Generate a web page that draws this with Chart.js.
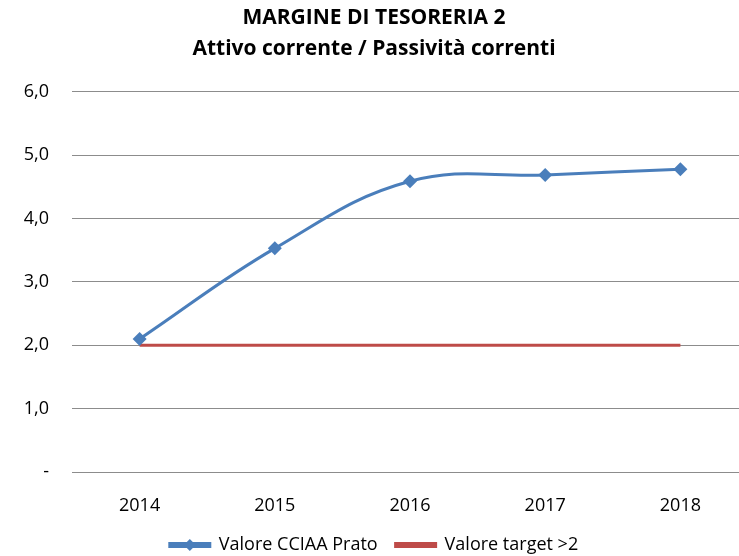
<!DOCTYPE html>
<html>
    <head>
        <title>Margine di tesoreria 2</title>
        <meta charset="UTF-8" />
        <script src="https://cdn.jsdelivr.net/npm/chart.js"></script>
        <style>
            body { margin: 0; background: #fff; width: 739px; height: 556px; overflow: hidden; }
            #wrap { width: 775px; height: 556px; }
        </style>
    </head>
    <body>
        <div id="wrap"><canvas id="myChart"></canvas></div>
        <script>
            // dati
            var anni = ['2014', '2015', '2016', '2017', '2018'];
            var valoreCciaa = [2.1, 3.53, 4.59, 4.69, 4.78];
            var valoreTarget = [2, 2, 2, 2, 2];
            var titolo = ['MARGINE DI TESORERIA 2', 'Attivo corrente / Passività correnti'];
            var etichette = ['Valore CCIAA Prato', 'Valore target >2'];

            var blu = '#4A7EBB';
            var rosso = '#BE4B48';
            var font = "'Open Sans', 'Noto Sans', sans-serif";

            // rombo sulla voce della legenda
            var rombiLegenda = {
                id: 'rombiLegenda',
                afterDraw: function(chart) {
                    var legend = chart.legend;
                    if (!legend || !legend.legendHitBoxes) return;
                    var box = legend.legendHitBoxes[0];
                    var ctx = chart.ctx;
                    ctx.save();
                    ctx.fillStyle = blu;
                    ctx.strokeStyle = blu;
                    Chart.helpers.drawPoint(ctx, { pointStyle: 'rectRot', radius: 6, borderWidth: 0 },
                        box.left + 20, box.top + box.height / 2);
                    ctx.restore();
                }
            };

            var ctx = document.getElementById('myChart').getContext('2d');
            var myChart = new Chart(ctx, {
                type: 'line',
                data: {
                    labels: anni,
                    datasets: [{
                        label: etichette[0],
                        data: valoreCciaa,
                        borderColor: blu,
                        backgroundColor: blu,
                        borderWidth: 3,
                        tension: 0.4,
                        pointStyle: 'rectRot',
                        pointRadius: 7,
                        pointBorderWidth: 0,
                        pointBackgroundColor: blu
                    }, {
                        label: etichette[1],
                        data: valoreTarget,
                        borderColor: rosso,
                        backgroundColor: rosso,
                        borderWidth: 3,
                        pointRadius: 0
                    }]
                },
                options: {
                    responsive: true,
                    maintainAspectRatio: false,
                    animation: false,
                    layout: { padding: { left: 0, right: 27, top: 0, bottom: -8 } },
                    plugins: {
                        tooltip: { enabled: false },
                        title: {
                            display: true,
                            text: titolo,
                            color: '#000',
                            font: { family: font, size: 21, weight: 'bold', lineHeight: 1.45 },
                            padding: { top: 3, bottom: 28 }
                        },
                        legend: {
                            position: 'bottom',
                            labels: {
                                color: '#000',
                                font: { family: font, size: 18 },
                                boxWidth: 40,
                                boxHeight: 3,
                                padding: 18
                            }
                        }
                    },
                    scales: {
                        x: {
                            offset: true,
                            grid: { display: false },
                            border: { display: false },
                            ticks: { color: '#000', font: { family: font, size: 18 }, padding: 15, maxRotation: 0 },
                            afterFit: function(scale) { scale.height = 46; }
                        },
                        y: {
                            min: 0,
                            max: 6,
                            grid: { color: '#8C8C8C', drawTicks: false },
                            border: { display: false },
                            ticks: {
                                stepSize: 1,
                                color: '#000',
                                font: { family: font, size: 18 },
                                padding: 23,
                                callback: function(v) { return v === 0 ? '-' : v.toFixed(1).replace('.', ','); }
                            },
                            afterFit: function(scale) { scale.width = 72; }
                        }
                    }
                },
                plugins: [rombiLegenda]
            });
        </script>
    </body>
</html>
